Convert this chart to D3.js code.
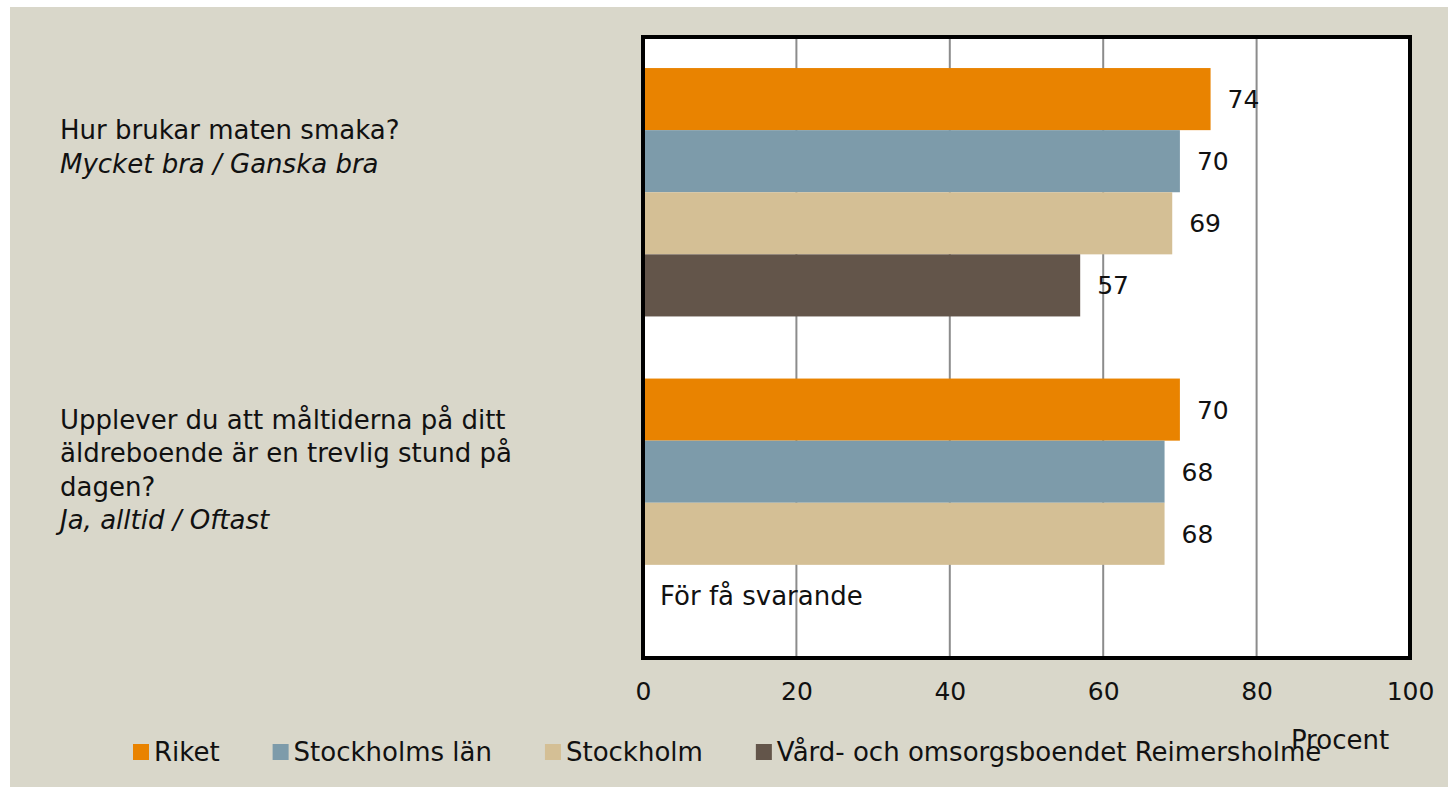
<!DOCTYPE html>
<html>
<head>
<meta charset="utf-8">
<title>Måltider</title>
<script src="https://cdnjs.cloudflare.com/ajax/libs/d3/7.8.5/d3.min.js"></script>
<style>
    body { margin: 0; background: #fff; }
    svg text { font-family: "DejaVu Sans", sans-serif; fill: #111; }
</style>
</head>
<body>
<svg id="chart" width="1448" height="787"></svg>
<script>
    // data
    var questions = ['q1', 'q2'];
    var questionText = [
        ['Hur brukar maten smaka?'],
        ['Upplever du att måltiderna på ditt', 'äldreboende är en trevlig stund på', 'dagen?']
    ];
    var answerText = ['Mycket bra / Ganska bra', 'Ja, alltid / Oftast'];
    var series = ['Riket', 'Stockholms län', 'Stockholm', 'Vård- och omsorgsboendet Reimersholme'];
    var colors = ['#e98300', '#7d9baa', '#d4bf95', '#63554a'];
    var riket = [74, 70];
    var stockholmsLan = [70, 68];
    var stockholm = [69, 68];
    var reimersholme = [57, null];
    var ticks = [0, 20, 40, 60, 80, 100];
    var missingText = 'För få svarande';

    var values = [riket, stockholmsLan, stockholm, reimersholme];

    var svg = d3.select('#chart');

    // background panel
    svg.append('rect')
        .attr('x', 10).attr('y', 7)
        .attr('width', 1438).attr('height', 780)
        .attr('fill', '#d9d7ca');

    // plot box (window.top is reserved, so own names here)
    var plotL = 643, plotR = 1410, plotT = 37, plotB = 658;

    var x = d3.scaleLinear().domain([0, 100]).range([plotL, plotR]);
    var y0 = d3.scaleBand().domain(questions).range([plotT, plotB])
        .paddingInner(0.2).paddingOuter(0.1);
    var y1 = d3.scaleBand().domain(d3.range(series.length)).range([0, y0.bandwidth()]);

    // plot area
    svg.append('rect')
        .attr('x', plotL).attr('y', plotT)
        .attr('width', plotR - plotL).attr('height', plotB - plotT)
        .attr('fill', '#fff');

    // grid
    svg.append('g').selectAll('line')
        .data(ticks.slice(1, -1))
        .join('line')
        .attr('x1', d => x(d)).attr('x2', d => x(d))
        .attr('y1', plotT).attr('y2', plotB)
        .attr('stroke', '#8c8c8c').attr('stroke-width', 2);

    // bars
    var rows = [];
    questions.forEach(function (q, qi) {
        series.forEach(function (s, si) {
            rows.push({ q: q, si: si, v: values[si][qi] });
        });
    });

    var g = svg.append('g');
    g.selectAll('rect')
        .data(rows.filter(d => d.v != null))
        .join('rect')
        .attr('x', x(0))
        .attr('y', d => y0(d.q) + y1(d.si))
        .attr('width', d => x(d.v) - x(0))
        .attr('height', y1.bandwidth())
        .attr('fill', d => colors[d.si]);

    g.selectAll('text')
        .data(rows)
        .join('text')
        .attr('x', d => x(d.v == null ? 0 : d.v) + 17)
        .attr('y', d => y0(d.q) + y1(d.si) + y1.bandwidth() / 2)
        .attr('dy', '0.36em')
        .attr('font-size', d => d.v == null ? 26 : 25)
        .text(d => d.v == null ? missingText : d.v);

    // frame
    svg.append('rect')
        .attr('x', plotL).attr('y', plotT)
        .attr('width', plotR - plotL).attr('height', plotB - plotT)
        .attr('fill', 'none')
        .attr('stroke', '#000').attr('stroke-width', 4);

    // x axis
    var xAxis = svg.append('g')
        .attr('transform', 'translate(0,' + plotB + ')')
        .call(d3.axisBottom(x).tickValues(ticks).tickSize(0).tickPadding(24));
    xAxis.select('.domain').remove();
    xAxis.selectAll('text')
        .attr('font-size', 25)
        .attr('font-family', '"DejaVu Sans", sans-serif')
        .attr('fill', '#111');

    svg.append('text')
        .attr('x', 1340).attr('y', 749)
        .attr('text-anchor', 'middle')
        .attr('font-size', 26)
        .text('Procent');

    // question labels, first baseline relative to the band top
    var firstLine = [101, 50];
    var lh = 33.5;
    var qg = svg.append('g');
    questions.forEach(function (q, qi) {
        var lines = questionText[qi];
        var startY = y0(q) + firstLine[qi] - (qi === 0 ? 30 : 0);
        var t = qg.append('text').attr('font-size', 26);
        lines.forEach(function (line, li) {
            t.append('tspan').attr('x', 60).attr('y', startY + li * lh).text(line);
        });
        t.append('tspan').attr('x', 60).attr('y', startY + lines.length * lh)
            .attr('font-style', 'italic').text(answerText[qi]);
    });

    // legend
    var lg = svg.append('g');
    var lx = 133;
    series.forEach(function (s, si) {
        lg.append('rect')
            .attr('x', lx).attr('y', 744)
            .attr('width', 16).attr('height', 16)
            .attr('fill', colors[si]);
        var t = lg.append('text')
            .attr('x', lx + 21).attr('y', 761)
            .attr('font-size', 26)
            .text(s);
        lx += 21 + t.node().getComputedTextLength() + 53;
    });
</script>
</body>
</html>
